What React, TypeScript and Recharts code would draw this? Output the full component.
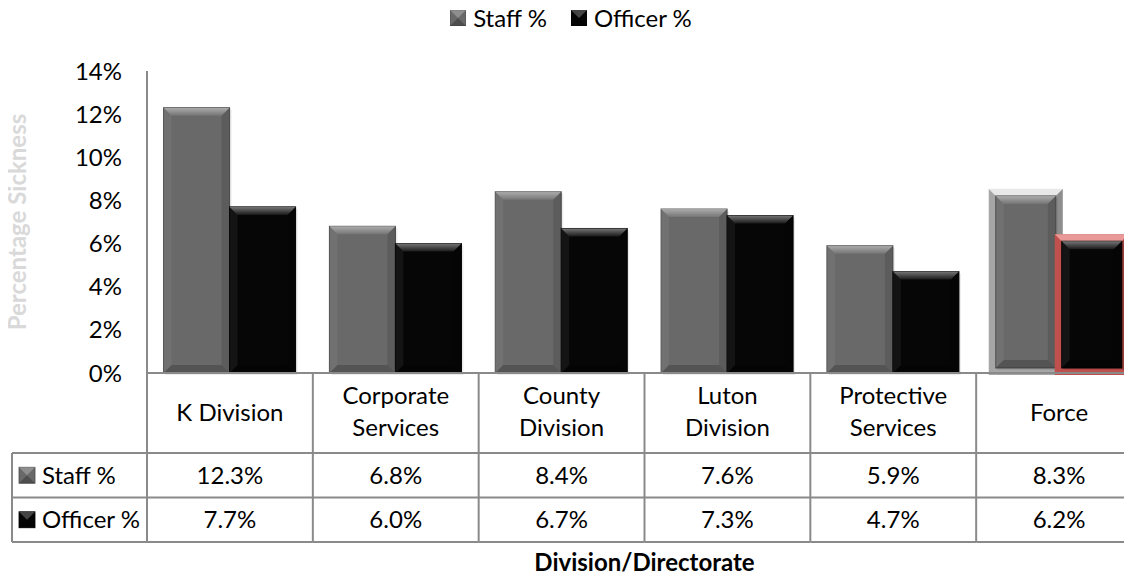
import { BarChart, Bar, XAxis, YAxis, Legend } from "recharts";

// values
const categories = ["K Division", "Corporate Services", "County Division", "Luton Division", "Protective Services", "Force"];
const staffPct = [12.3, 6.8, 8.4, 7.6, 5.9, 8.3];
const officerPct = [7.7, 6.0, 6.7, 7.3, 4.7, 6.2];
const yTicks = [0, 2, 4, 6, 8, 10, 12, 14];
const seriesNames = ["Staff %", "Officer %"];
const highlighted = "Force"; // the total column gets a framed bar

const data = categories.map((name, i) => ({ name, staff: staffPct[i], officer: officerPct[i] }));

// layout (chart is shifted onto the page origin, so these are page pixels)
const CHART_W = 1142;
const CHART_H = 577;
const Y_AXIS_W = 147;
const PLOT_TOP = 71;
const AXIS_Y = 373;
const COL_W = (CHART_W - Y_AXIS_W) / categories.length;
const HEADER_H = 80;
const ROW_H = 44.5;
const TABLE_LEFT = 12;
const GRID = "#8a8a8a";
const FONT = "Lato, 'Open Sans', sans-serif";
const FS = 24;

type Tone = { base: string; edge: string; frame?: string; frameLight?: string };
const STAFF: Tone = { base: "#696969", edge: "#4d4d4d", frame: "#a6a6a6", frameLight: "#e8e8e8" };
const OFFICER: Tone = { base: "#060606", edge: "#000000", frame: "#c0504d", frameLight: "#e99a98" };

function wrapLabel(s: string): string[] {
  if (s.length <= 10) return [s];
  const i = s.indexOf(" ");
  return i < 0 ? [s] : [s.slice(0, i), s.slice(i + 1)];
}

function bevel(x: number, y: number, w: number, h: number, base: string, edge: string, b: number) {
  const bb = Math.max(0, Math.min(b, w / 2, h / 2));
  return (
    <g>
      <rect x={x + 2} y={y + 2} width={w} height={h} fill="#000" opacity={0.08} />
      <rect x={x} y={y} width={w} height={h} fill={base} stroke={edge} strokeWidth={1} />
      <polygon points={`${x},${y} ${x + w},${y} ${x + w - bb},${y + bb} ${x + bb},${y + bb}`} fill="url(#bvTop)" />
      <polygon points={`${x},${y} ${x + bb},${y + bb} ${x + bb},${y + h - bb} ${x},${y + h}`} fill="#ffffff" opacity={0.06} />
      <polygon points={`${x + w},${y} ${x + w - bb},${y + bb} ${x + w - bb},${y + h - bb} ${x + w},${y + h}`} fill="#000000" opacity={0.12} />
      <polygon points={`${x},${y + h} ${x + bb},${y + h - bb} ${x + w - bb},${y + h - bb} ${x + w},${y + h}`} fill="#000000" opacity={0.2} />
    </g>
  );
}

function makeShape(tone: Tone) {
  return (p: any) => {
    const { x, y, width, height, payload } = p;
    if (!height || height <= 0) return <g />;
    if (payload && payload.name === highlighted && tone.frame) {
      const ox = x - 4, oy = y - 5, ow = width + 8, oh = height + 7;
      const t = 7;
      return (
        <g>
          <rect x={ox} y={oy} width={ow} height={oh} fill={tone.frame} />
          <polygon points={`${ox},${oy} ${ox + ow},${oy} ${ox + ow - t},${oy + t} ${ox + t},${oy + t}`} fill={tone.frameLight} />
          <polygon points={`${ox + ow},${oy} ${ox + ow - t},${oy + t} ${ox + ow - t},${oy + oh - t} ${ox + ow},${oy + oh}`} fill="#000" opacity={0.15} />
          {bevel(ox + t, oy + t, ow - 2 * t, oh - 2 * t, tone.base, tone.edge, 8)}
        </g>
      );
    }
    return bevel(x, y, width, height, tone.base, tone.edge, 8);
  };
}

function Swatch({ tone, x = 0, y = 0 }: { tone: Tone; x?: number; y?: number }) {
  const s = 16;
  return (
    <g transform={`translate(${x},${y})`}>
      <rect width={s} height={s} fill={tone.base} stroke={tone.edge} strokeWidth={0.8} />
      <polygon points={`0,0 ${s},0 ${s / 2},${s / 2}`} fill="#ffffff" opacity={0.25} />
      <polygon points={`0,${s} ${s},${s} ${s / 2},${s / 2}`} fill="#000000" opacity={0.25} />
    </g>
  );
}

function TableTick(props: any) {
  const { x, y, payload, index } = props;
  const left = x - COL_W / 2;
  const right = x + COL_W / 2;
  const r1 = y + HEADER_H;
  const r2 = r1 + ROW_H;
  const r3 = r2 + ROW_H;
  const lines = wrapLabel(String(payload.value));
  const headY = lines.length === 1 ? [y + 40] : [y + 23, y + 55];
  const txt = { fontFamily: FONT, fontSize: FS, fill: "#000", textAnchor: "middle" as const };
  return (
    <g>
      {index === 0 && (
        <g>
          <line x1={left} y1={y} x2={left} y2={r3} stroke={GRID} strokeWidth={2} />
          <line x1={TABLE_LEFT} y1={r1} x2={left} y2={r1} stroke={GRID} strokeWidth={2} />
          <line x1={TABLE_LEFT} y1={r2} x2={left} y2={r2} stroke={GRID} strokeWidth={2} />
          <line x1={TABLE_LEFT} y1={r3} x2={left} y2={r3} stroke={GRID} strokeWidth={2} />
          <line x1={TABLE_LEFT} y1={r1} x2={TABLE_LEFT} y2={r3} stroke={GRID} strokeWidth={2} />
          <Swatch tone={STAFF} x={TABLE_LEFT + 7} y={r1 + ROW_H / 2 - 8} />
          <text x={TABLE_LEFT + 30} y={r1 + ROW_H / 2} dy="0.35em" fontFamily={FONT} fontSize={FS} fill="#000">{seriesNames[0]}</text>
          <Swatch tone={OFFICER} x={TABLE_LEFT + 7} y={r2 + ROW_H / 2 - 8} />
          <text x={TABLE_LEFT + 30} y={r2 + ROW_H / 2} dy="0.35em" fontFamily={FONT} fontSize={FS} fill="#000">{seriesNames[1]}</text>
        </g>
      )}
      <line x1={right} y1={y} x2={right} y2={r3} stroke={GRID} strokeWidth={2} />
      <line x1={left} y1={r1} x2={right} y2={r1} stroke={GRID} strokeWidth={2} />
      <line x1={left} y1={r2} x2={right} y2={r2} stroke={GRID} strokeWidth={2} />
      <line x1={left} y1={r3} x2={right} y2={r3} stroke={GRID} strokeWidth={2} />
      {lines.map((l, i) => (
        <text key={i} x={x} y={headY[i]} dy="0.35em" {...txt}>{l}</text>
      ))}
      <text x={x} y={r1 + ROW_H / 2} dy="0.35em" {...txt}>{staffPct[index].toFixed(1)}%</text>
      <text x={x} y={r2 + ROW_H / 2} dy="0.35em" {...txt}>{officerPct[index].toFixed(1)}%</text>
    </g>
  );
}

function LegendBox() {
  const tones = [STAFF, OFFICER];
  return (
    <div style={{ display: "flex", justifyContent: "center", alignItems: "center", height: 30, gap: 24, fontFamily: FONT, fontSize: FS, color: "#000" }}>
      {seriesNames.map((n, i) => (
        <div key={n} style={{ display: "flex", alignItems: "center", gap: 7 }}>
          <svg width={16} height={16}><Swatch tone={tones[i]} /></svg>
          <span style={{ lineHeight: "30px" }}>{n}</span>
        </div>
      ))}
    </div>
  );
}

export default function App() {
  return (
    <div style={{ margin: "-8px 0 0 -8px", width: 1132, height: CHART_H, overflow: "hidden" }}>
      <BarChart
        width={CHART_W}
        height={CHART_H}
        data={data}
        margin={{ top: PLOT_TOP, right: 0, bottom: 0, left: 0 }}
        barCategoryGap="10%"
        barGap={0}
      >
        <defs>
          <linearGradient id="bvTop" x1="0" y1="0" x2="0" y2="1">
            <stop offset="0%" stopColor="#ffffff" stopOpacity={0.45} />
            <stop offset="100%" stopColor="#ffffff" stopOpacity={0.08} />
          </linearGradient>
        </defs>
        <Legend
          verticalAlign="middle"
          align="center"
          layout="horizontal"
          wrapperStyle={{ top: 3, left: 0, width: CHART_W, height: 30 }}
          content={() => <LegendBox />}
        />
        <YAxis
          width={Y_AXIS_W}
          domain={[0, 14]}
          ticks={yTicks}
          tickFormatter={(v: number) => `${v}%`}
          tickLine={false}
          tickSize={0}
          tickMargin={25}
          axisLine={{ stroke: GRID, strokeWidth: 2 }}
          tick={{ fill: "#000", fontSize: FS, fontFamily: FONT }}
          label={{
            content: () => (
              <text
                x={18}
                y={(PLOT_TOP + AXIS_Y) / 2}
                transform={`rotate(-90 18 ${(PLOT_TOP + AXIS_Y) / 2})`}
                textAnchor="middle"
                dy="0.35em"
                fontFamily={FONT}
                fontWeight="bold"
                fontSize={FS}
                fill="#d9d9d9"
              >
                Percentage Sickness
              </text>
            ),
          }}
        />
        <XAxis
          dataKey="name"
          height={CHART_H - AXIS_Y}
          interval={0}
          tickLine={false}
          tickSize={0}
          tickMargin={0}
          axisLine={{ stroke: GRID, strokeWidth: 2 }}
          tick={<TableTick />}
          label={{
            content: () => (
              <text
                x={Y_AXIS_W + (CHART_W - Y_AXIS_W) / 2}
                y={563}
                dy="0.35em"
                textAnchor="middle"
                fontFamily={FONT}
                fontWeight="bold"
                fontSize={FS}
                fill="#000"
              >
                Division/Directorate
              </text>
            ),
          }}
        />
        <Bar dataKey="staff" name={seriesNames[0]} fill={STAFF.base} shape={makeShape(STAFF)} isAnimationActive={false} />
        <Bar dataKey="officer" name={seriesNames[1]} fill={OFFICER.base} shape={makeShape(OFFICER)} isAnimationActive={false} />
      </BarChart>
    </div>
  );
}
